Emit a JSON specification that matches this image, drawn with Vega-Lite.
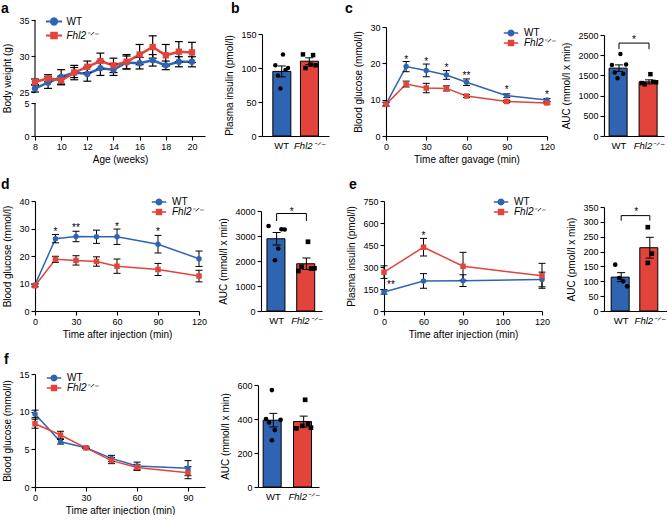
{
"$schema":"https://vega.github.io/schema/vega-lite/v6.json",
"padding":{"left":1,"top":2,"right":0,"bottom":0},
"config":{
 "font":"Liberation Sans",
 "view":{"stroke":null},
 "axis":{"domainColor":"#000","domainWidth":1.1,"tickColor":"#000","tickWidth":1.1,"tickSize":4,"labelColor":"#000","labelFontSize":9,"labelPadding":2,"labelOverlap":false,"labelBound":false,"labelFlush":false,"titleColor":"#000","titleFontSize":10,"titleFontWeight":"normal","grid":false,"labelFont":"Liberation Sans","titleFont":"Liberation Sans"},
 "legend":{"labelFont":"Liberation Sans","labelColor":"#000","padding":0,"labelFontSize":10,"labelOffset":8,"symbolOpacity":1},
 "title":{"font":"Liberation Sans","fontSize":14,"fontWeight":"bold","color":"#000","anchor":"start","frame":"group","baseline":"alphabetic"},
 "text":{"color":"#000"}
},
"datasets":{
 "a":[
  {"t":8,"g":"WT","m":25.5,"lo":25.0,"hi":26.0},{"t":9,"g":"WT","m":26.3,"lo":25.5,"hi":27.1},{"t":10,"g":"WT","m":27.1,"lo":26.1,"hi":28.1},{"t":11,"g":"WT","m":27.7,"lo":26.7,"hi":28.7},{"t":12,"g":"WT","m":27.5,"lo":26.5,"hi":28.5},{"t":13,"g":"WT","m":28.3,"lo":27.3,"hi":29.3},{"t":14,"g":"WT","m":28.1,"lo":27.3,"hi":28.9},{"t":15,"g":"WT","m":29.1,"lo":28.2,"hi":30.0},{"t":16,"g":"WT","m":29.0,"lo":28.2,"hi":29.8},{"t":17,"g":"WT","m":29.4,"lo":28.6,"hi":30.2},{"t":18,"g":"WT","m":28.7,"lo":28.1,"hi":29.3},{"t":19,"g":"WT","m":29.2,"lo":28.5,"hi":29.9},{"t":20,"g":"WT","m":29.2,"lo":28.5,"hi":29.9},
  {"t":8,"g":"Fhl2","m":26.4,"lo":26.0,"hi":26.8},{"t":9,"g":"Fhl2","m":26.9,"lo":26.4,"hi":27.4},{"t":10,"g":"Fhl2","m":26.6,"lo":26.0,"hi":27.2},{"t":11,"g":"Fhl2","m":27.7,"lo":27.0,"hi":28.4},{"t":12,"g":"Fhl2","m":28.5,"lo":27.7,"hi":29.3},{"t":13,"g":"Fhl2","m":29.3,"lo":28.2,"hi":30.4},{"t":14,"g":"Fhl2","m":28.7,"lo":27.7,"hi":29.7},{"t":15,"g":"Fhl2","m":29.2,"lo":28.2,"hi":30.2},{"t":16,"g":"Fhl2","m":30.2,"lo":28.8,"hi":31.6},{"t":17,"g":"Fhl2","m":31.25,"lo":29.7,"hi":32.8},{"t":18,"g":"Fhl2","m":30.1,"lo":28.6,"hi":31.6},{"t":19,"g":"Fhl2","m":30.6,"lo":29.2,"hi":32.0},{"t":20,"g":"Fhl2","m":30.5,"lo":29.1,"hi":31.9}
 ],
 "abrk":[{"lo":0,"hi":5},{"lo":25,"hi":35}],
 "b":[{"g":"WT","m":95,"lo":87,"hi":103},{"g":"Fhl2","m":110,"lo":105,"hi":115}],
 "bd":[{"g":"WT","r":1,"v":104},{"g":"WT","r":2,"v":89},{"g":"WT","r":3,"v":70},{"g":"WT","r":4,"v":120},{"g":"WT","r":5,"v":97},{"g":"WT","r":6,"v":100},{"g":"Fhl2","r":1,"v":120},{"g":"Fhl2","r":2,"v":100},{"g":"Fhl2","r":4,"v":105},{"g":"Fhl2","r":5,"v":119},{"g":"Fhl2","r":6,"v":104}],
 "c":[
  {"t":0,"g":"WT","m":8.8,"lo":8.3,"hi":9.3},{"t":15,"g":"WT","m":19.1,"lo":17.7,"hi":20.5},{"t":30,"g":"WT","m":18.0,"lo":16.3,"hi":19.8},{"t":45,"g":"WT","m":16.8,"lo":15.6,"hi":18.0},{"t":60,"g":"WT","m":14.8,"lo":13.9,"hi":15.7},{"t":90,"g":"WT","m":11.1,"lo":10.6,"hi":11.6},{"t":120,"g":"WT","m":9.9,"lo":9.5,"hi":10.3},
  {"t":0,"g":"Fhl2","m":8.7,"lo":8.2,"hi":9.2},{"t":15,"g":"Fhl2","m":14.3,"lo":13.5,"hi":15.1},{"t":30,"g":"Fhl2","m":13.2,"lo":11.9,"hi":14.5},{"t":45,"g":"Fhl2","m":13.1,"lo":12.4,"hi":13.8},{"t":60,"g":"Fhl2","m":11.0,"lo":10.6,"hi":11.4},{"t":90,"g":"Fhl2","m":9.5,"lo":9.2,"hi":9.8},{"t":120,"g":"Fhl2","m":9.1,"lo":8.8,"hi":9.4}
 ],
 "cs":[{"t":15,"y":21.7,"s":"*"},{"t":30,"y":21.2,"s":"*"},{"t":45,"y":19.6,"s":"*"},{"t":60,"y":17.4,"s":"**"},{"t":90,"y":13.4,"s":"*"},{"t":120,"y":12.1,"s":"*"}],
 "cb":[{"g":"WT","m":1680,"lo":1600,"hi":1760},{"g":"Fhl2","m":1340,"lo":1290,"hi":1390}],
 "cd":[{"g":"WT","r":1,"v":1760},{"g":"WT","r":2,"v":1570},{"g":"WT","r":3,"v":1430},{"g":"WT","r":4,"v":2030},{"g":"WT","r":5,"v":1540},{"g":"WT","r":6,"v":1770},{"g":"Fhl2","r":1,"v":1310},{"g":"Fhl2","r":2,"v":1280},{"g":"Fhl2","r":4,"v":1530},{"g":"Fhl2","r":5,"v":1340},{"g":"Fhl2","r":6,"v":1330}],
 "cbr":[{"g":"WT","y":2150,"o":1},{"g":"WT","y":2300,"o":2},{"g":"Fhl2","y":2300,"o":3},{"g":"Fhl2","y":2150,"o":4}],
 "cst":[{"g":"WT","y":2450,"s":"*"}],
 "d":[
  {"t":0,"g":"WT","m":9.5,"lo":9.0,"hi":10.0},{"t":15,"g":"WT","m":26.3,"lo":24.8,"hi":27.8},{"t":30,"g":"WT","m":27.1,"lo":25.2,"hi":29.0},{"t":45,"g":"WT","m":27.0,"lo":24.6,"hi":29.4},{"t":60,"g":"WT","m":27.0,"lo":24.2,"hi":29.8},{"t":90,"g":"WT","m":24.3,"lo":21.1,"hi":27.5},{"t":120,"g":"WT","m":19.0,"lo":16.2,"hi":21.8},
  {"t":0,"g":"Fhl2","m":9.2,"lo":8.7,"hi":9.7},{"t":15,"g":"Fhl2","m":18.8,"lo":17.7,"hi":19.9},{"t":30,"g":"Fhl2","m":18.4,"lo":16.7,"hi":20.1},{"t":45,"g":"Fhl2","m":18.0,"lo":16.3,"hi":19.7},{"t":60,"g":"Fhl2","m":16.3,"lo":13.7,"hi":18.9},{"t":90,"g":"Fhl2","m":15.1,"lo":12.9,"hi":17.3},{"t":120,"g":"Fhl2","m":12.7,"lo":10.6,"hi":14.8}
 ],
 "ds":[{"t":15,"y":29.7,"s":"*"},{"t":30,"y":31.2,"s":"**"},{"t":60,"y":31.8,"s":"*"},{"t":90,"y":29.7,"s":"*"}],
 "db":[{"g":"WT","m":2890,"lo":2640,"hi":3140},{"g":"Fhl2","m":1890,"lo":1660,"hi":2120}],
 "dd":[{"g":"WT","r":1,"v":3400},{"g":"WT","r":3,"v":2030},{"g":"WT","r":4,"v":2500},{"g":"WT","r":5,"v":3270},{"g":"WT","r":6,"v":3260},{"g":"Fhl2","r":1,"v":1600},{"g":"Fhl2","r":2,"v":1770},{"g":"Fhl2","r":4,"v":2770},{"g":"Fhl2","r":5,"v":1700},{"g":"Fhl2","r":6,"v":1710}],
 "dbr":[{"g":"WT","y":3600,"o":1},{"g":"WT","y":3900,"o":2},{"g":"Fhl2","y":3900,"o":3},{"g":"Fhl2","y":3600,"o":4}],
 "dst":[{"g":"WT","y":4080,"s":"*"}],
 "e":[
  {"t":0,"g":"WT","m":130,"lo":115,"hi":145},{"t":60,"g":"WT","m":205,"lo":155,"hi":255},{"t":90,"g":"WT","m":207,"lo":167,"hi":247},{"t":120,"g":"WT","m":215,"lo":165,"hi":265},
  {"t":0,"g":"Fhl2","m":265,"lo":222,"hi":308},{"t":60,"g":"Fhl2","m":435,"lo":375,"hi":495},{"t":90,"g":"Fhl2","m":305,"lo":210,"hi":400},{"t":120,"g":"Fhl2","m":240,"lo":155,"hi":325}
 ],
 "es":[{"t":10.5,"y":198,"s":"**"},{"t":60,"y":530,"s":"*"}],
 "eb":[{"g":"WT","m":114,"lo":99,"hi":129},{"g":"Fhl2","m":213,"lo":178,"hi":248}],
 "ed":[{"g":"WT","r":2,"v":156},{"g":"WT","r":3,"v":111},{"g":"WT","r":4,"v":100},{"g":"WT","r":5,"v":83},{"g":"Fhl2","r":3,"v":282},{"g":"Fhl2","r":4,"v":193},{"g":"Fhl2","r":3,"v":162}],
 "ebr":[{"g":"WT","y":304,"o":1},{"g":"WT","y":321,"o":2},{"g":"Fhl2","y":321,"o":3},{"g":"Fhl2","y":304,"o":4}],
 "est":[{"g":"WT","y":343,"s":"*"}],
 "f":[
  {"t":0,"g":"WT","m":9.7,"lo":9.2,"hi":10.2},{"t":15,"g":"WT","m":6.0,"lo":5.7,"hi":6.3},{"t":30,"g":"WT","m":5.2,"lo":5.1,"hi":5.3},{"t":45,"g":"WT","m":3.8,"lo":3.4,"hi":4.2},{"t":60,"g":"WT","m":2.8,"lo":2.3,"hi":3.3},{"t":90,"g":"WT","m":2.5,"lo":1.5,"hi":3.5},
  {"t":0,"g":"Fhl2","m":8.4,"lo":7.8,"hi":9.0},{"t":15,"g":"Fhl2","m":6.9,"lo":6.4,"hi":7.4},{"t":30,"g":"Fhl2","m":5.2,"lo":5.1,"hi":5.3},{"t":45,"g":"Fhl2","m":3.5,"lo":3.1,"hi":3.9},{"t":60,"g":"Fhl2","m":2.6,"lo":2.2,"hi":3.0},{"t":90,"g":"Fhl2","m":1.9,"lo":1.1,"hi":2.7}
 ],
 "fb":[{"g":"WT","m":393,"lo":353,"hi":433},{"g":"Fhl2","m":385,"lo":353,"hi":417}],
 "fd":[{"g":"WT","r":3,"v":570},{"g":"WT","r":1,"v":400},{"g":"WT","r":6,"v":395},{"g":"WT","r":2,"v":380},{"g":"WT","r":4,"v":335},{"g":"WT","r":3,"v":275},{"g":"Fhl2","r":4,"v":513},{"g":"Fhl2","r":1,"v":345},{"g":"Fhl2","r":3,"v":360},{"g":"Fhl2","r":6,"v":349},{"g":"Fhl2","r":5,"v":370}]
},
"spacing":14,
"resolve":{"scale":{"color":"independent","stroke":"independent","fill":"independent","shape":"independent","xOffset":"independent"},"legend":{"color":"independent","stroke":"independent","fill":"independent","shape":"independent"}},
"vconcat":[
 {"hconcat":[
  {"width":170,"height":116,"title":{"text":"a","dx":-34,"offset":0},
   "data":{"name":"a"},
   "layer":[
    {"data":{"name":"abrk"},"mark":{"type":"rule","color":"#000","strokeWidth":1.1},"encoding":{"x":{"datum":8,"type":"quantitative"},"y":{"field":"lo","type":"quantitative"},"y2":{"field":"hi"}}},
    {"transform":[{"filter":"datum.g === 'WT'"}],"mark":{"type":"line","strokeWidth":2.5},"encoding":{
      "x":{"field":"t","type":"quantitative","scale":{"domain":[8,21],"nice":false,"zero":false},"axis":{"values":[8,10,12,14,16,18,20],"tickCount":20,"format":"d","labelOverlap":false,"title":"Age (weeks)","titlePadding":3}},
      "y":{"field":"m","type":"quantitative","scale":{"domain":[0,5,25,35],"range":[116,83,72,0],"nice":false,"zero":false},"axis":{"values":[0,5,25,30,35],"tickCount":20,"format":"d","labelOverlap":false,"domain":false,"title":"Body weight (g)","titlePadding":6}},
      "stroke":{"field":"g","type":"nominal","scale":{"domain":["WT"],"range":["#2F64B2"]},"legend":{"title":null,"orient":"none","legendX":13.5,"legendY":-4,"symbolType":"M-1.8,0H1.8M0.7,0L0.61,0.35L0.35,0.61L0,0.7L-0.35,0.61L-0.61,0.35L-0.7,0L-0.61,-0.35L-0.35,-0.61L0,-0.7L0.35,-0.61L0.61,-0.35Z","symbolSize":81,"symbolFillColor":"#2F64B2","symbolStrokeWidth":2,"labelOffset":7}}}},
    {"transform":[{"filter":"datum.g === 'Fhl2'"}],"mark":{"type":"line","strokeWidth":2.5},"encoding":{"x":{"field":"t","type":"quantitative"},"y":{"field":"m","type":"quantitative"},
      "color":{"field":"g","type":"nominal","scale":{"domain":["Fhl2"],"range":["#E2433B"]},"legend":{"title":null,"orient":"none","legendX":13.5,"legendY":10,"symbolType":"M-1.8,0H1.8M-0.62,-0.62H0.62V0.62H-0.62Z","symbolSize":81,"symbolFillColor":"#E2433B","symbolStrokeWidth":2,"labelOffset":7,"labelExpr":"'Fhl2\u207b\u141f\u207b'","labelFontStyle":"italic"}}}},
    {"mark":{"type":"rule","color":"#000","strokeWidth":1.2},"encoding":{"x":{"field":"t","type":"quantitative"},"y":{"field":"lo","type":"quantitative"},"y2":{"field":"hi"}}},
    {"transform":[{"fold":["lo","hi"],"as":["k","v"]}],"mark":{"type":"point","shape":"stroke","size":64,"strokeWidth":1.2,"color":"#000","filled":false,"opacity":1},"encoding":{"x":{"field":"t","type":"quantitative"},"y":{"field":"v","type":"quantitative"}}},
    {"mark":{"type":"point","filled":true,"size":40,"opacity":1,"strokeWidth":0},"encoding":{"x":{"field":"t","type":"quantitative"},"y":{"field":"m","type":"quantitative"},
      "fill":{"field":"g","type":"nominal","scale":{"domain":["WT","Fhl2"],"range":["#2F64B2","#E2433B"]},"legend":null},
      "shape":{"field":"g","type":"nominal","scale":{"domain":["WT","Fhl2"],"range":["circle","square"]},"legend":null}}}
   ]},
  {"width":67,"height":116,"title":{"text":"b","dx":-31,"offset":4},
   "layer":[
    {"data":{"name":"b"},"mark":{"type":"bar","stroke":"#000","strokeWidth":1},"encoding":{
      "x":{"field":"g","type":"nominal","scale":{"domain":["WT","Fhl2"],"paddingInner":0.357,"paddingOuter":0.393},"axis":{"title":null,"ticks":false,"labelAngle":0,"labelPadding":4,"labelFontSize":9.5,"labelOverlap":false,"labelExpr":"datum.value === 'Fhl2' ? 'Fhl2\u207b\u141f\u207b' : 'WT'","labelFontStyle":{"condition":{"test":"datum.value === 'Fhl2'","value":"italic"},"value":"normal"}}},
      "y":{"field":"m","type":"quantitative","scale":{"domain":[0,150],"range":[116,14],"nice":false},"axis":{"values":[0,50,100,150],"tickCount":20,"format":"d","labelOverlap":false,"title":"Plasma insulin (pmol/l)","titlePadding":6}},
      "color":{"field":"g","type":"nominal","scale":{"domain":["WT","Fhl2"],"range":["#2F64B2","#E2433B"]},"legend":null}}},
    {"data":{"name":"b"},"mark":{"type":"rule","color":"#000","strokeWidth":1},"encoding":{"x":{"field":"g","type":"nominal"},"y":{"field":"lo","type":"quantitative"},"y2":{"field":"hi"}}},
    {"data":{"name":"b"},"transform":[{"fold":["lo","hi"],"as":["k","v"]}],"mark":{"type":"point","shape":"stroke","size":64,"strokeWidth":1,"color":"#000","filled":false,"opacity":1},"encoding":{"x":{"field":"g","type":"nominal"},"y":{"field":"v","type":"quantitative"}}},
    {"data":{"name":"bd"},"mark":{"type":"point","filled":true,"color":"#000","size":20,"opacity":1},"encoding":{"x":{"field":"g","type":"nominal"},"xOffset":{"field":"r","type":"nominal","scale":{"paddingOuter":1.5}},"y":{"field":"v","type":"quantitative"},"shape":{"field":"g","type":"nominal","scale":{"domain":["WT","Fhl2"],"range":["circle","square"]},"legend":null}}}
   ]},
  {"width":161,"height":116,"title":{"text":"c","dx":-41,"offset":4},
   "data":{"name":"c"},
   "layer":[
    {"transform":[{"filter":"datum.g === 'WT'"}],"mark":{"type":"line","strokeWidth":1.5},"encoding":{
      "x":{"field":"t","type":"quantitative","scale":{"domain":[0,120],"nice":false},"axis":{"values":[0,30,60,90,120],"tickCount":20,"format":"d","labelOverlap":false,"title":"Time after gavage (min)","titlePadding":3}},
      "y":{"field":"m","type":"quantitative","scale":{"domain":[0,30],"range":[116,7],"nice":false},"axis":{"values":[0,10,20,30],"tickCount":20,"format":"d","labelOverlap":false,"title":"Blood glucose (mmol/l)","titlePadding":6}},
      "stroke":{"field":"g","type":"nominal","scale":{"domain":["WT"],"range":["#2F64B2"]},"legend":{"title":null,"orient":"none","legendX":120,"legendY":8,"symbolType":"M-1.8,0H1.8M0.7,0L0.61,0.35L0.35,0.61L0,0.7L-0.35,0.61L-0.61,0.35L-0.7,0L-0.61,-0.35L-0.35,-0.61L0,-0.7L0.35,-0.61L0.61,-0.35Z","symbolSize":64,"symbolFillColor":"#2F64B2","symbolStrokeWidth":1.5}}}},
    {"transform":[{"filter":"datum.g === 'Fhl2'"}],"mark":{"type":"line","strokeWidth":1.5},"encoding":{"x":{"field":"t","type":"quantitative"},"y":{"field":"m","type":"quantitative"},
      "color":{"field":"g","type":"nominal","scale":{"domain":["Fhl2"],"range":["#E2433B"]},"legend":{"title":null,"orient":"none","legendX":120,"legendY":18,"symbolType":"M-1.8,0H1.8M-0.62,-0.62H0.62V0.62H-0.62Z","symbolSize":64,"symbolFillColor":"#E2433B","symbolStrokeWidth":1.5,"labelExpr":"'Fhl2\u207b\u141f\u207b'","labelFontStyle":"italic"}}}},
    {"mark":{"type":"rule","color":"#000","strokeWidth":1},"encoding":{"x":{"field":"t","type":"quantitative"},"y":{"field":"lo","type":"quantitative"},"y2":{"field":"hi"}}},
    {"transform":[{"fold":["lo","hi"],"as":["k","v"]}],"mark":{"type":"point","shape":"stroke","size":49,"strokeWidth":1,"color":"#000","filled":false,"opacity":1},"encoding":{"x":{"field":"t","type":"quantitative"},"y":{"field":"v","type":"quantitative"}}},
    {"mark":{"type":"point","filled":true,"size":30,"opacity":1,"strokeWidth":0},"encoding":{"x":{"field":"t","type":"quantitative"},"y":{"field":"m","type":"quantitative"},
      "fill":{"field":"g","type":"nominal","scale":{"domain":["WT","Fhl2"],"range":["#2F64B2","#E2433B"]},"legend":null},
      "shape":{"field":"g","type":"nominal","scale":{"domain":["WT","Fhl2"],"range":["circle","square"]},"legend":null}}},
    {"data":{"name":"cs"},"mark":{"type":"text","fontSize":10,"dy":3},"encoding":{"x":{"field":"t","type":"quantitative"},"y":{"field":"y","type":"quantitative"},"text":{"field":"s"}}}
   ]},
  {"width":60,"height":116,
   "layer":[
    {"data":{"name":"cb"},"mark":{"type":"bar","stroke":"#000","strokeWidth":1},"encoding":{
      "x":{"field":"g","type":"nominal","scale":{"domain":["WT","Fhl2"],"paddingInner":0.34,"paddingOuter":0.17},"axis":{"title":null,"ticks":false,"labelAngle":0,"labelPadding":4,"labelFontSize":9.5,"labelOverlap":false,"labelExpr":"datum.value === 'Fhl2' ? 'Fhl2\u207b\u141f\u207b' : 'WT'","labelFontStyle":{"condition":{"test":"datum.value === 'Fhl2'","value":"italic"},"value":"normal"}}},
      "y":{"field":"m","type":"quantitative","scale":{"domain":[0,2500],"range":[116,15],"nice":false},"axis":{"values":[0,500,1000,1500,2000,2500],"tickCount":20,"labelOverlap":false,"format":"d","title":"AUC (mmol/l x min)","titlePadding":6}},
      "color":{"field":"g","type":"nominal","scale":{"domain":["WT","Fhl2"],"range":["#2F64B2","#E2433B"]},"legend":null}}},
    {"data":{"name":"cb"},"mark":{"type":"rule","color":"#000","strokeWidth":1},"encoding":{"x":{"field":"g","type":"nominal"},"y":{"field":"lo","type":"quantitative"},"y2":{"field":"hi"}}},
    {"data":{"name":"cb"},"transform":[{"fold":["lo","hi"],"as":["k","v"]}],"mark":{"type":"point","shape":"stroke","size":64,"strokeWidth":1,"color":"#000","filled":false,"opacity":1},"encoding":{"x":{"field":"g","type":"nominal"},"y":{"field":"v","type":"quantitative"}}},
    {"data":{"name":"cd"},"mark":{"type":"point","filled":true,"color":"#000","size":20,"opacity":1},"encoding":{"x":{"field":"g","type":"nominal"},"xOffset":{"field":"r","type":"nominal","scale":{"paddingOuter":1}},"y":{"field":"v","type":"quantitative"},"shape":{"field":"g","type":"nominal","scale":{"domain":["WT","Fhl2"],"range":["circle","square"]},"legend":null}}},
    {"data":{"name":"cbr"},"mark":{"type":"line","color":"#000","strokeWidth":1},"encoding":{"x":{"field":"g","type":"nominal"},"y":{"field":"y","type":"quantitative"},"order":{"field":"o"}}},
    {"data":{"name":"cst"},"mark":{"type":"text","fontSize":10,"dx":15,"dy":3},"encoding":{"x":{"field":"g","type":"nominal"},"y":{"field":"y","type":"quantitative"},"text":{"field":"s"}}}
   ]}
 ],"spacing":57,"bounds":"flush",
 "resolve":{"scale":{"color":"independent","stroke":"independent","fill":"independent","shape":"independent","xOffset":"independent"},"legend":{"color":"independent","stroke":"independent","fill":"independent","shape":"independent"}}},
 {"hconcat":[
  {"width":164,"height":110,"title":{"text":"d","dx":-34,"offset":5},
   "data":{"name":"d"},
   "layer":[
    {"transform":[{"filter":"datum.g === 'WT'"}],"mark":{"type":"line","strokeWidth":1.5},"encoding":{
      "x":{"field":"t","type":"quantitative","scale":{"domain":[0,120],"nice":false},"axis":{"values":[0,30,60,90,120],"tickCount":20,"format":"d","labelOverlap":false,"title":"Time after injection (min)","titlePadding":3}},
      "y":{"field":"m","type":"quantitative","scale":{"domain":[0,40],"nice":false},"axis":{"values":[0,10,20,30,40],"tickCount":20,"format":"d","labelOverlap":false,"title":"Blood glucose (mmol/l)","titlePadding":6}},
      "stroke":{"field":"g","type":"nominal","scale":{"domain":["WT"],"range":["#2F64B2"]},"legend":{"title":null,"orient":"none","legendX":119,"legendY":-4,"symbolType":"M-1.8,0H1.8M0.7,0L0.61,0.35L0.35,0.61L0,0.7L-0.35,0.61L-0.61,0.35L-0.7,0L-0.61,-0.35L-0.35,-0.61L0,-0.7L0.35,-0.61L0.61,-0.35Z","symbolSize":64,"symbolFillColor":"#2F64B2","symbolStrokeWidth":1.5}}}},
    {"transform":[{"filter":"datum.g === 'Fhl2'"}],"mark":{"type":"line","strokeWidth":1.5},"encoding":{"x":{"field":"t","type":"quantitative"},"y":{"field":"m","type":"quantitative"},
      "color":{"field":"g","type":"nominal","scale":{"domain":["Fhl2"],"range":["#E2433B"]},"legend":{"title":null,"orient":"none","legendX":119,"legendY":6,"symbolType":"M-1.8,0H1.8M-0.62,-0.62H0.62V0.62H-0.62Z","symbolSize":64,"symbolFillColor":"#E2433B","symbolStrokeWidth":1.5,"labelExpr":"'Fhl2\u207b\u141f\u207b'","labelFontStyle":"italic"}}}},
    {"mark":{"type":"rule","color":"#000","strokeWidth":1},"encoding":{"x":{"field":"t","type":"quantitative"},"y":{"field":"lo","type":"quantitative"},"y2":{"field":"hi"}}},
    {"transform":[{"fold":["lo","hi"],"as":["k","v"]}],"mark":{"type":"point","shape":"stroke","size":49,"strokeWidth":1,"color":"#000","filled":false,"opacity":1},"encoding":{"x":{"field":"t","type":"quantitative"},"y":{"field":"v","type":"quantitative"}}},
    {"mark":{"type":"point","filled":true,"size":30,"opacity":1,"strokeWidth":0},"encoding":{"x":{"field":"t","type":"quantitative"},"y":{"field":"m","type":"quantitative"},
      "fill":{"field":"g","type":"nominal","scale":{"domain":["WT","Fhl2"],"range":["#2F64B2","#E2433B"]},"legend":null},
      "shape":{"field":"g","type":"nominal","scale":{"domain":["WT","Fhl2"],"range":["circle","square"]},"legend":null}}},
    {"data":{"name":"ds"},"mark":{"type":"text","fontSize":10,"dy":3},"encoding":{"x":{"field":"t","type":"quantitative"},"y":{"field":"y","type":"quantitative"},"text":{"field":"s"}}}
   ]},
  {"width":61,"height":110,
   "layer":[
    {"data":{"name":"db"},"mark":{"type":"bar","stroke":"#000","strokeWidth":1},"encoding":{
      "x":{"field":"g","type":"nominal","scale":{"domain":["WT","Fhl2"],"paddingInner":0.35,"paddingOuter":0.2},"axis":{"title":null,"ticks":false,"labelAngle":0,"labelPadding":4,"labelFontSize":9.5,"labelOverlap":false,"labelExpr":"datum.value === 'Fhl2' ? 'Fhl2\u207b\u141f\u207b' : 'WT'","labelFontStyle":{"condition":{"test":"datum.value === 'Fhl2'","value":"italic"},"value":"normal"}}},
      "y":{"field":"m","type":"quantitative","scale":{"domain":[0,4000],"range":[110,10],"nice":false},"axis":{"values":[0,1000,2000,3000,4000],"tickCount":20,"labelOverlap":false,"format":"d","title":"AUC (mmol/l x min)","titlePadding":6}},
      "color":{"field":"g","type":"nominal","scale":{"domain":["WT","Fhl2"],"range":["#2F64B2","#E2433B"]},"legend":null}}},
    {"data":{"name":"db"},"mark":{"type":"rule","color":"#000","strokeWidth":1},"encoding":{"x":{"field":"g","type":"nominal"},"y":{"field":"lo","type":"quantitative"},"y2":{"field":"hi"}}},
    {"data":{"name":"db"},"transform":[{"fold":["lo","hi"],"as":["k","v"]}],"mark":{"type":"point","shape":"stroke","size":64,"strokeWidth":1,"color":"#000","filled":false,"opacity":1},"encoding":{"x":{"field":"g","type":"nominal"},"y":{"field":"v","type":"quantitative"}}},
    {"data":{"name":"dd"},"mark":{"type":"point","filled":true,"color":"#000","size":22,"opacity":1},"encoding":{"x":{"field":"g","type":"nominal"},"xOffset":{"field":"r","type":"nominal","scale":{"paddingOuter":0.5}},"y":{"field":"v","type":"quantitative"},"shape":{"field":"g","type":"nominal","scale":{"domain":["WT","Fhl2"],"range":["circle","square"]},"legend":null}}},
    {"data":{"name":"dbr"},"mark":{"type":"line","color":"#000","strokeWidth":1},"encoding":{"x":{"field":"g","type":"nominal"},"y":{"field":"y","type":"quantitative"},"order":{"field":"o"}}},
    {"data":{"name":"dst"},"mark":{"type":"text","fontSize":10,"dx":15,"dy":3},"encoding":{"x":{"field":"g","type":"nominal"},"y":{"field":"y","type":"quantitative"},"text":{"field":"s"}}}
   ]},
  {"width":158,"height":110,"title":{"text":"e","dx":-35,"offset":5},
   "data":{"name":"e"},
   "layer":[
    {"transform":[{"filter":"datum.g === 'WT'"}],"mark":{"type":"line","strokeWidth":1.5},"encoding":{
      "x":{"field":"t","type":"quantitative","scale":{"domain":[0,60,90,100,120],"range":[0,39.5,79,118.5,158],"nice":false,"zero":false},"axis":{"values":[0,60,90,100,120],"tickCount":20,"format":"d","labelOverlap":false,"title":"Time after injection (min)","titlePadding":3}},
      "y":{"field":"m","type":"quantitative","scale":{"domain":[0,750],"nice":false},"axis":{"values":[0,150,300,450,600,750],"tickCount":20,"format":"d","labelOverlap":false,"title":"Plasma insulin (pmol/l)","titlePadding":6}},
      "stroke":{"field":"g","type":"nominal","scale":{"domain":["WT"],"range":["#2F64B2"]},"legend":{"title":null,"orient":"none","legendX":112,"legendY":-4,"symbolType":"M-1.8,0H1.8M0.7,0L0.61,0.35L0.35,0.61L0,0.7L-0.35,0.61L-0.61,0.35L-0.7,0L-0.61,-0.35L-0.35,-0.61L0,-0.7L0.35,-0.61L0.61,-0.35Z","symbolSize":64,"symbolFillColor":"#2F64B2","symbolStrokeWidth":1.5}}}},
    {"transform":[{"filter":"datum.g === 'Fhl2'"}],"mark":{"type":"line","strokeWidth":1.5},"encoding":{"x":{"field":"t","type":"quantitative"},"y":{"field":"m","type":"quantitative"},
      "color":{"field":"g","type":"nominal","scale":{"domain":["Fhl2"],"range":["#E2433B"]},"legend":{"title":null,"orient":"none","legendX":112,"legendY":6,"symbolType":"M-1.8,0H1.8M-0.62,-0.62H0.62V0.62H-0.62Z","symbolSize":64,"symbolFillColor":"#E2433B","symbolStrokeWidth":1.5,"labelExpr":"'Fhl2\u207b\u141f\u207b'","labelFontStyle":"italic"}}}},
    {"mark":{"type":"rule","color":"#000","strokeWidth":1},"encoding":{"x":{"field":"t","type":"quantitative"},"y":{"field":"lo","type":"quantitative"},"y2":{"field":"hi"}}},
    {"transform":[{"fold":["lo","hi"],"as":["k","v"]}],"mark":{"type":"point","shape":"stroke","size":49,"strokeWidth":1,"color":"#000","filled":false,"opacity":1},"encoding":{"x":{"field":"t","type":"quantitative"},"y":{"field":"v","type":"quantitative"}}},
    {"mark":{"type":"point","filled":true,"size":30,"opacity":1,"strokeWidth":0},"encoding":{"x":{"field":"t","type":"quantitative"},"y":{"field":"m","type":"quantitative"},
      "fill":{"field":"g","type":"nominal","scale":{"domain":["WT","Fhl2"],"range":["#2F64B2","#E2433B"]},"legend":null},
      "shape":{"field":"g","type":"nominal","scale":{"domain":["WT","Fhl2"],"range":["circle","square"]},"legend":null}}},
    {"data":{"name":"es"},"mark":{"type":"text","fontSize":10,"dy":3},"encoding":{"x":{"field":"t","type":"quantitative"},"y":{"field":"y","type":"quantitative"},"text":{"field":"s"}}}
   ]},
  {"width":63,"height":110,
   "layer":[
    {"data":{"name":"eb"},"mark":{"type":"bar","stroke":"#000","strokeWidth":1},"encoding":{
      "x":{"field":"g","type":"nominal","scale":{"domain":["WT","Fhl2"],"paddingInner":0.3,"paddingOuter":0.25},"axis":{"title":null,"ticks":false,"labelAngle":0,"labelPadding":4,"labelFontSize":9.5,"labelOverlap":false,"labelExpr":"datum.value === 'Fhl2' ? 'Fhl2\u207b\u141f\u207b' : 'WT'","labelFontStyle":{"condition":{"test":"datum.value === 'Fhl2'","value":"italic"},"value":"normal"}}},
      "y":{"field":"m","type":"quantitative","scale":{"domain":[0,350],"range":[110,6],"nice":false},"axis":{"values":[0,50,100,150,200,250,300,350],"tickCount":20,"format":"d","labelOverlap":false,"title":"AUC (pmol/l x min)","titlePadding":6}},
      "color":{"field":"g","type":"nominal","scale":{"domain":["WT","Fhl2"],"range":["#2F64B2","#E2433B"]},"legend":null}}},
    {"data":{"name":"eb"},"mark":{"type":"rule","color":"#000","strokeWidth":1},"encoding":{"x":{"field":"g","type":"nominal"},"y":{"field":"lo","type":"quantitative"},"y2":{"field":"hi"}}},
    {"data":{"name":"eb"},"transform":[{"fold":["lo","hi"],"as":["k","v"]}],"mark":{"type":"point","shape":"stroke","size":64,"strokeWidth":1,"color":"#000","filled":false,"opacity":1},"encoding":{"x":{"field":"g","type":"nominal"},"y":{"field":"v","type":"quantitative"}}},
    {"data":{"name":"ed"},"mark":{"type":"point","filled":true,"color":"#000","size":22,"opacity":1},"encoding":{"x":{"field":"g","type":"nominal"},"xOffset":{"field":"r","type":"nominal","scale":{"paddingOuter":1}},"y":{"field":"v","type":"quantitative"},"shape":{"field":"g","type":"nominal","scale":{"domain":["WT","Fhl2"],"range":["circle","square"]},"legend":null}}},
    {"data":{"name":"ebr"},"mark":{"type":"line","color":"#000","strokeWidth":1},"encoding":{"x":{"field":"g","type":"nominal"},"y":{"field":"y","type":"quantitative"},"order":{"field":"o"}}},
    {"data":{"name":"est"},"mark":{"type":"text","fontSize":10,"dx":15,"dy":3},"encoding":{"x":{"field":"g","type":"nominal"},"y":{"field":"y","type":"quantitative"},"text":{"field":"s"}}}
   ]}
 ],"spacing":62,"bounds":"flush",
 "resolve":{"scale":{"color":"independent","stroke":"independent","fill":"independent","shape":"independent","xOffset":"independent"},"legend":{"color":"independent","stroke":"independent","fill":"independent","shape":"independent"}}},
 {"hconcat":[
  {"width":170,"height":113,"title":{"text":"f","dx":-31,"offset":3},
   "data":{"name":"f"},
   "layer":[
    {"transform":[{"filter":"datum.g === 'WT'"}],"mark":{"type":"line","strokeWidth":1.5},"encoding":{
      "x":{"field":"t","type":"quantitative","scale":{"domain":[0,100],"nice":false},"axis":{"values":[0,30,60,90],"tickCount":20,"format":"d","labelOverlap":false,"title":"Time after injection (min)","titlePadding":3}},
      "y":{"field":"m","type":"quantitative","scale":{"domain":[0,15],"nice":false},"axis":{"values":[0,5,10,15],"tickCount":20,"format":"d","labelOverlap":false,"title":"Blood glucose (mmol/l)","titlePadding":6}},
      "stroke":{"field":"g","type":"nominal","scale":{"domain":["WT"],"range":["#2F64B2"]},"legend":{"title":null,"orient":"none","legendX":14,"legendY":-1,"symbolType":"M-1.8,0H1.8M0.7,0L0.61,0.35L0.35,0.61L0,0.7L-0.35,0.61L-0.61,0.35L-0.7,0L-0.61,-0.35L-0.35,-0.61L0,-0.7L0.35,-0.61L0.61,-0.35Z","symbolSize":64,"symbolFillColor":"#2F64B2","symbolStrokeWidth":1.5}}}},
    {"transform":[{"filter":"datum.g === 'Fhl2'"}],"mark":{"type":"line","strokeWidth":1.5},"encoding":{"x":{"field":"t","type":"quantitative"},"y":{"field":"m","type":"quantitative"},
      "color":{"field":"g","type":"nominal","scale":{"domain":["Fhl2"],"range":["#E2433B"]},"legend":{"title":null,"orient":"none","legendX":14,"legendY":9,"symbolType":"M-1.8,0H1.8M-0.62,-0.62H0.62V0.62H-0.62Z","symbolSize":64,"symbolFillColor":"#E2433B","symbolStrokeWidth":1.5,"labelExpr":"'Fhl2\u207b\u141f\u207b'","labelFontStyle":"italic"}}}},
    {"mark":{"type":"rule","color":"#000","strokeWidth":1},"encoding":{"x":{"field":"t","type":"quantitative"},"y":{"field":"lo","type":"quantitative"},"y2":{"field":"hi"}}},
    {"transform":[{"fold":["lo","hi"],"as":["k","v"]}],"mark":{"type":"point","shape":"stroke","size":49,"strokeWidth":1,"color":"#000","filled":false,"opacity":1},"encoding":{"x":{"field":"t","type":"quantitative"},"y":{"field":"v","type":"quantitative"}}},
    {"mark":{"type":"point","filled":true,"size":30,"opacity":1,"strokeWidth":0},"encoding":{"x":{"field":"t","type":"quantitative"},"y":{"field":"m","type":"quantitative"},
      "fill":{"field":"g","type":"nominal","scale":{"domain":["WT","Fhl2"],"range":["#2F64B2","#E2433B"]},"legend":null},
      "shape":{"field":"g","type":"nominal","scale":{"domain":["WT","Fhl2"],"range":["circle","square"]},"legend":null}}}
   ]},
  {"width":61,"height":113,
   "layer":[
    {"data":{"name":"fb"},"mark":{"type":"bar","stroke":"#000","strokeWidth":1},"encoding":{
      "x":{"field":"g","type":"nominal","scale":{"domain":["WT","Fhl2"],"paddingInner":0.33,"paddingOuter":0.17},"axis":{"title":null,"ticks":false,"labelAngle":0,"labelPadding":4,"labelFontSize":9.5,"labelOverlap":false,"labelExpr":"datum.value === 'Fhl2' ? 'Fhl2\u207b\u141f\u207b' : 'WT'","labelFontStyle":{"condition":{"test":"datum.value === 'Fhl2'","value":"italic"},"value":"normal"}}},
      "y":{"field":"m","type":"quantitative","scale":{"domain":[0,600],"range":[113,11],"nice":false},"axis":{"values":[0,200,400,600],"tickCount":20,"format":"d","labelOverlap":false,"title":"AUC (mmol/l x min)","titlePadding":6}},
      "color":{"field":"g","type":"nominal","scale":{"domain":["WT","Fhl2"],"range":["#2F64B2","#E2433B"]},"legend":null}}},
    {"data":{"name":"fb"},"mark":{"type":"rule","color":"#000","strokeWidth":1},"encoding":{"x":{"field":"g","type":"nominal"},"y":{"field":"lo","type":"quantitative"},"y2":{"field":"hi"}}},
    {"data":{"name":"fb"},"transform":[{"fold":["lo","hi"],"as":["k","v"]}],"mark":{"type":"point","shape":"stroke","size":64,"strokeWidth":1,"color":"#000","filled":false,"opacity":1},"encoding":{"x":{"field":"g","type":"nominal"},"y":{"field":"v","type":"quantitative"}}},
    {"data":{"name":"fd"},"mark":{"type":"point","filled":true,"color":"#000","size":22,"opacity":1},"encoding":{"x":{"field":"g","type":"nominal"},"xOffset":{"field":"r","type":"nominal","scale":{"paddingOuter":1}},"y":{"field":"v","type":"quantitative"},"shape":{"field":"g","type":"nominal","scale":{"domain":["WT","Fhl2"],"range":["circle","square"]},"legend":null}}}
   ]}
 ],"spacing":53,"bounds":"flush",
 "resolve":{"scale":{"color":"independent","stroke":"independent","fill":"independent","shape":"independent","xOffset":"independent"},"legend":{"color":"independent","stroke":"independent","fill":"independent","shape":"independent"}}}
]
}
